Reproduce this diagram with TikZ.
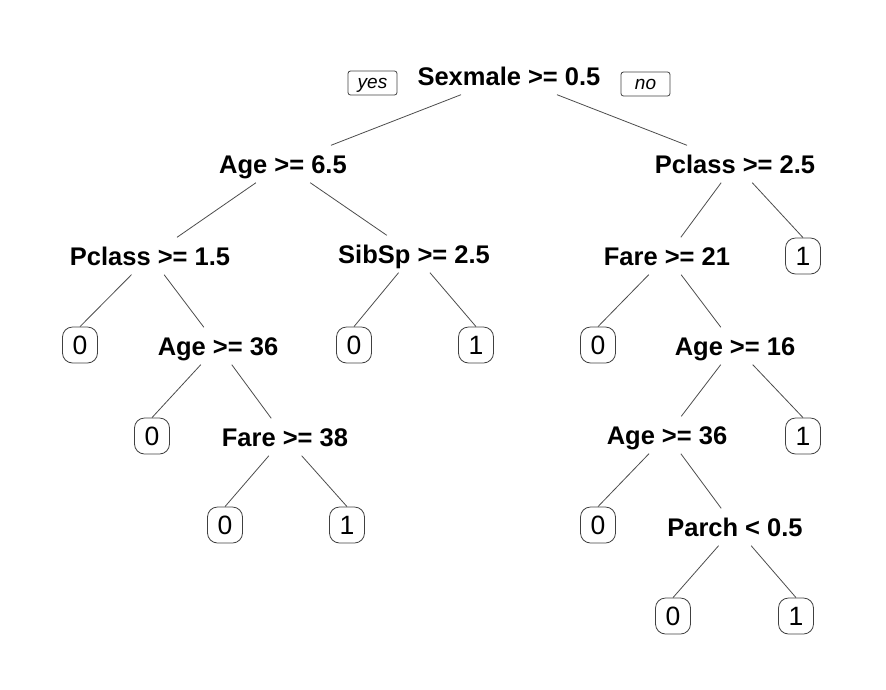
\documentclass[tikz,border=0pt]{standalone}
\usepackage{fontspec}
\setmainfont{Liberation Sans}
\begin{document}
\begin{tikzpicture}[x=1pt,y=-1pt,
  split/.style={font=\fontsize{25.5}{30}\selectfont\bfseries, text height=18pt, text depth=0pt, inner ysep=9.5pt, inner xsep=2pt},
  leaf/.style={draw=black!75, line width=0.8pt, rounded corners=10pt, font=\fontsize{26.5}{30}\selectfont, minimum width=35pt, minimum height=36pt, inner sep=0pt, text height=19pt, text depth=0pt},
  tag/.style={draw=black!75, line width=0.8pt, rounded corners=2.5pt, font=\fontsize{19}{22}\selectfont\itshape, minimum width=49pt, minimum height=24pt, inner sep=0pt, text height=10pt, text depth=0pt},
  br/.style={draw=black!70, line width=0.8pt}]
\useasboundingbox (0,0) rectangle (886,689);
% internal nodes
\node[split] (root) at (509,76) {Sexmale >= 0.5};
\node[tag] (yes) at (372.5,83) {yes};
\node[tag] (no) at (645.5,84) {no};
\node[split] (age65) at (283,164) {Age >= 6.5};
\node[split] (pc25) at (735,164) {Pclass >= 2.5};
\node[split] (pc15) at (150,256) {Pclass >= 1.5};
\node[split] (sib) at (414,254) {SibSp >= 2.5};
\node[split] (fare21) at (667,256) {Fare >= 21};
\node[split] (age36a) at (218,346) {Age >= 36};
\node[split] (age16) at (735,346) {Age >= 16};
\node[split] (fare38) at (285,437) {Fare >= 38};
\node[split] (age36b) at (667,435) {Age >= 36};
\node[split] (parch) at (735,527) {Parch < 0.5};
% leaves
\node[leaf] (l1) at (803,256) {1};
\node[leaf] (l2) at (80,345) {0};
\node[leaf] (l3) at (354,345) {0};
\node[leaf] (l4) at (476,345) {1};
\node[leaf] (l5) at (598,345) {0};
\node[leaf] (l6) at (152,436) {0};
\node[leaf] (l7) at (803,436) {1};
\node[leaf] (l8) at (225,525) {0};
\node[leaf] (l9) at (347,525) {1};
\node[leaf] (l10) at (598,525) {0};
\node[leaf] (l11) at (673,616) {0};
\node[leaf] (l12) at (796,616) {1};
% branches
\draw[br] (root) -- (age65);
\draw[br] (root) -- (pc25);
\draw[br] (age65) -- (pc15);
\draw[br] (age65) -- (sib);
\draw[br] (pc25) -- (fare21);
\draw[br] (pc25) -- (l1.north);
\draw[br] (pc15) -- (l2.north);
\draw[br] (pc15) -- (age36a);
\draw[br] (sib) -- (l3.north);
\draw[br] (sib) -- (l4.north);
\draw[br] (fare21) -- (l5.north);
\draw[br] (fare21) -- (age16);
\draw[br] (age36a) -- (l6.north);
\draw[br] (age36a) -- (fare38);
\draw[br] (age16) -- (age36b);
\draw[br] (age16) -- (l7.north);
\draw[br] (fare38) -- (l8.north);
\draw[br] (fare38) -- (l9.north);
\draw[br] (age36b) -- (l10.north);
\draw[br] (age36b) -- (parch);
\draw[br] (parch) -- (l11.north);
\draw[br] (parch) -- (l12.north);
\end{tikzpicture}
\end{document}
